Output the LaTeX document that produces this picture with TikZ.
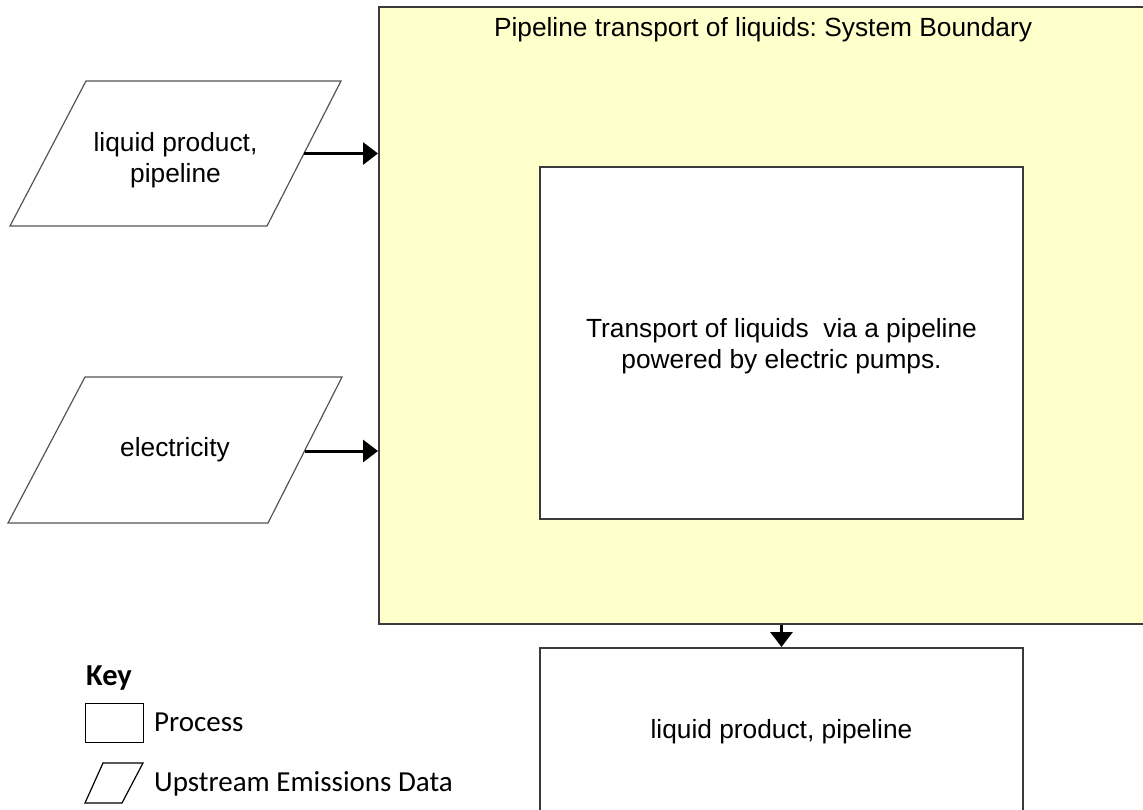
\documentclass[tikz,border=0pt]{standalone}
\usepackage{fontspec}
\setmainfont{Liberation Sans}
\newfontfamily\keyfont{Carlito}
\usetikzlibrary{arrows.meta}
\definecolor{sysfill}{HTML}{FFFFCC}
\definecolor{boxline}{HTML}{3A3A3A}
\definecolor{parline}{HTML}{555555}
\tikzset{
  txt/.style={font=\fontsize{26.3}{31}\selectfont, align=center, inner sep=0pt},
  keytxt/.style={font=\keyfont\fontsize{29}{33}\selectfont, anchor=west, inner sep=0pt},
  procbox/.style={draw=boxline, line width=1.6pt, fill=white, rectangle, inner sep=0pt},
  parshape/.style={draw=parline, line width=1.2pt, fill=white, line join=miter},
  arr/.style={line width=3pt, -{Triangle[length=15pt,width=22pt]}},
}
\begin{document}
\begin{tikzpicture}[x=1pt,y=-1pt]
\useasboundingbox (0,0) rectangle (1143,809);
\clip (0,0) rectangle (1143,809);
% system boundary
\node[draw=boxline, line width=1.8pt, fill=sysfill, rectangle, inner sep=0pt,
      minimum width=772pt, minimum height=617pt, anchor=north west] (sys) at (378,6) {};
\node[txt] (systitle) at (763,30) {Pipeline transport of liquids:\ System Boundary};
% inner process
\node[procbox, minimum width=483pt, minimum height=352pt] (proc) at (781.5,343) {};
\node[txt] (proctxt) at (781.5,346) {Transport of liquids\ \ via a pipeline\\powered by electric pumps.};
% output box
\node[procbox, minimum width=483pt, minimum height=170pt, anchor=north] (out) at (781.5,647)
  {};
\node[txt] (outtxt) at (781.5,732) {liquid product, pipeline};
% input parallelograms
\draw[parshape] (10,226) -- (267,226) -- (341,81) -- (86,81) -- cycle;
\node[txt] (in1) at (175.5,160) {liquid product,\\pipeline};
\coordinate (in1e) at (304,153.5);
\draw[parshape] (8,523) -- (268,523) -- (342,377) -- (85,377) -- cycle;
\node[txt] (in2) at (175,450) {electricity};
\coordinate (in2e) at (305,451);
% connectors
\draw[arr] (in1e) -- (in1e -| sys.west);
\draw[arr] (in2e) -- (in2e -| sys.west);
\draw[arr] (out.north |- sys.south) -- (out.north);
% key
\node[keytxt, font=\keyfont\bfseries\fontsize{30.5}{34}\selectfont] (keytitle) at (86,678) {Key};
\node[draw=black, line width=1.2pt, rectangle, minimum width=58pt, minimum height=39pt,
      anchor=north west, inner sep=0pt] (keyproc) at (85,703) {};
\node[keytxt] (keyproclbl) at (154,722) {Process};
\draw[line width=1.2pt, draw=black] (85,803) -- (122,803) -- (143,763) -- (103,763) -- cycle;
\node[keytxt] (keyparlbl) at (154,784) {Upstream Emissions Data};
\end{tikzpicture}
\end{document}
